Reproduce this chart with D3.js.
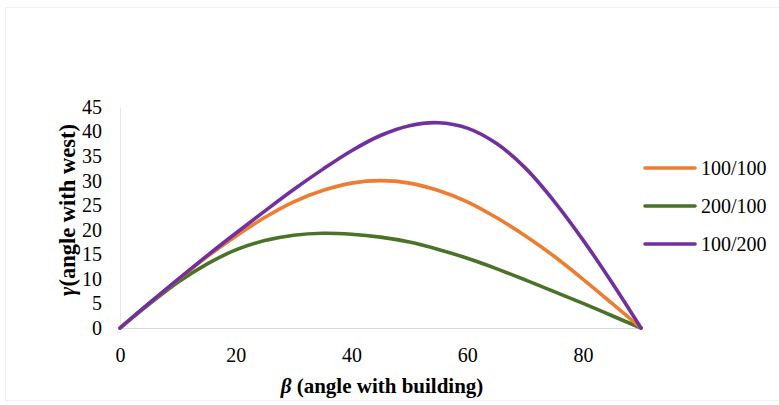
<!DOCTYPE html>
<html>
<head>
<meta charset="utf-8">
<script src="https://cdn.jsdelivr.net/npm/d3@7"></script>
<style>
  body { margin: 0; background: #fff; }
  svg text { font-family: "Liberation Serif", "Times New Roman", serif; fill: #000; }
</style>
</head>
<body>
<div id="chart"></div>
<script>
var serif = "'Liberation Serif', 'Times New Roman', serif";

// beta values (degrees)
var beta = [0, 5, 10, 15, 20, 25, 30, 35, 40, 45, 50, 55, 60, 65, 70, 75, 80, 85, 90];

// gamma values
var s100_100 = [0, 5.0, 9.8, 14.5, 18.7, 22.5, 25.7, 28.0, 29.5, 30.0, 29.5, 28.0, 25.7, 22.5, 18.8, 14.6, 9.9, 5.0, 0];
var s200_100 = [0, 4.8, 9.3, 13.0, 15.9, 17.8, 18.9, 19.3, 19.1, 18.5, 17.5, 16.0, 14.2, 12.1, 9.8, 7.4, 5.0, 2.5, 0];
var s100_200 = [0, 5.0, 9.9, 14.7, 19.3, 23.8, 28.2, 32.3, 36.1, 39.2, 41.2, 41.8, 40.7, 37.6, 32.6, 25.8, 17.9, 9.2, 0];

var seriesNames = ["100/100", "200/100", "100/200"];
var colors = ["#ED7D31", "#4A7328", "#7030A0"];
var yTicks = [0, 5, 10, 15, 20, 25, 30, 35, 40, 45];
var xTicks = [0, 20, 40, 60, 80];

var W = 779, H = 405;
var margin = {top: 107, bottom: 77, left: 120, right: 138};
var width = W - margin.left - margin.right;
var height = H - margin.top - margin.bottom;

var svg = d3.select("#chart")
            .append("svg")
            .attr("width", W)
            .attr("height", H);

// faint chart border
svg.append("rect")
   .attr("x", 5.5).attr("y", 7.5)
   .attr("width", W - 5).attr("height", 393)
   .attr("fill", "none")
   .attr("stroke", "#efefef");

var xScale = d3.scaleLinear().domain([0, 90]).range([0, width]);
var yScale = d3.scaleLinear().domain([0, 45]).range([height, 0]);

var g = svg.append("g")
           .attr("transform", "translate(" + margin.left + "," + margin.top + ")");

//Y axis
var yAxis = d3.axisLeft(yScale).tickValues(yTicks).tickSize(0).tickPadding(18);
var ya = g.append("g").attr("class", "axis").call(yAxis);
ya.select(".domain").attr("stroke", "#e6e6e6");

//X axis
var xAxis = d3.axisBottom(xScale).tickValues(xTicks).tickSize(0).tickPadding(20);
var xa = g.append("g")
          .attr("class", "axis")
          .attr("transform", "translate(0," + height + ")")
          .call(xAxis);
xa.select(".domain").attr("stroke", "#d9d9d9");

[ya, xa].forEach(function(a) {
  a.attr("font-family", serif).attr("font-size", 20);
  a.selectAll("text").style("font-family", serif).style("font-size", "20px").attr("fill", "#000");
});

// lines
var allSeries = [s100_100, s200_100, s100_200];
var line = d3.line()
             .x(function(d, i) { return xScale(beta[i]); })
             .y(function(d) { return yScale(d); })
             .curve(d3.curveCatmullRom.alpha(0.5));

// draw order: green, orange, purple on top
[1, 0, 2].forEach(function(k) {
  g.append("path")
   .datum(allSeries[k])
   .attr("d", line)
   .attr("fill", "none")
   .attr("stroke", colors[k])
   .attr("stroke-width", 3.6)
   .attr("stroke-linejoin", "round")
   .attr("stroke-linecap", "round");
});

//Axis titles
var xt = svg.append("text")
   .attr("x", 382)
   .attr("y", 393)
   .attr("text-anchor", "middle")
   .style("font-family", serif)
   .style("font-size", "21px")
   .style("font-weight", "bold");
xt.append("tspan").attr("font-style", "italic").text("β");
xt.append("tspan").text(" (angle with building)");

var yt = svg.append("text")
   .attr("transform", "translate(75,210) rotate(-90)")
   .attr("text-anchor", "middle")
   .style("font-family", serif)
   .style("font-size", "22.5px")
   .style("font-weight", "bold");
yt.append("tspan").attr("font-style", "italic").text("γ");
yt.append("tspan").text("(angle with west)");

//Legend
var legend = svg.selectAll(".legend")
                .data(seriesNames)
                .enter().append("g")
                .attr("class", "legend");

legend.append("line")
  .attr("x1", 645).attr("x2", 695)
  .attr("y1", function(d, i) { return 168 + 38 * i; })
  .attr("y2", function(d, i) { return 168 + 38 * i; })
  .attr("stroke", function(d, i) { return colors[i]; })
  .attr("stroke-width", 3.6)
  .attr("stroke-linecap", "round");

legend.append("text")
  .attr("x", 701)
  .attr("y", function(d, i) { return 175 + 38 * i; })
  .style("font-family", serif)
  .style("font-size", "20px")
  .text(function(d) { return d; });
</script>
</body>
</html>
